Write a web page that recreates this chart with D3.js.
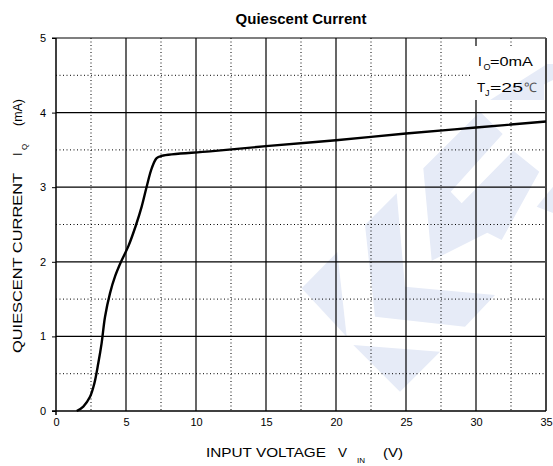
<!DOCTYPE html>
<html><head><meta charset="utf-8">
<script src="https://cdn.jsdelivr.net/npm/d3@7"></script>
<style>body{margin:0;background:#fff}svg{display:block}text{font-family:"Liberation Sans",Arial,sans-serif;white-space:pre}</style>
</head><body>
<svg id="c" width="553" height="466"></svg>
<script>
const voltage = [1.48, 1.95, 2.43, 2.74, 3.02, 3.26, 3.5, 3.86, 4.23, 4.62, 5.17, 5.71, 6.12, 6.48, 6.83, 7.19, 7.55, 11, 15, 20, 25, 30, 35];
const current = [0, 0.06, 0.19, 0.37, 0.64, 0.91, 1.26, 1.58, 1.81, 1.99, 2.21, 2.49, 2.74, 3.01, 3.25, 3.39, 3.42, 3.48, 3.55, 3.63, 3.72, 3.80, 3.88];
const xTicks = [0, 5, 10, 15, 20, 25, 30, 35];
const yTicks = [0, 1, 2, 3, 4, 5];
const xMinor = [2.5, 7.5, 12.5, 17.5, 22.5, 27.5, 32.5];
const yMinor = [0.5, 1.5, 2.5, 3.5, 4.5];

const svg = d3.select("#c");
const L = 56, R = 546, T = 38, B = 411;
const x = d3.scaleLinear().domain([0, 35]).range([L, R]);
const y = d3.scaleLinear().domain([0, 5]).range([B, T]);
const WM = "#e6ebf7";

// watermark
const wm = [
  [[301.7,288.3],[337.3,252],[346.7,336.7]],
  [[353.3,345],[440,351.7],[400,391.7]],
  [[365,225],[396.7,193.3],[405,286.7],[495,295],[465,326.7],[375,316.7]],
  [[423.3,168.3],[480,111.7],[502.7,134],[450.7,191.7],[461.7,203.3],[513.3,150.7],[539.3,171.7],[501.7,240],[487.3,232.7],[431.7,260.7]],
  [[536.7,206.7],[553,186.7],[553,213]],
  [[490,100],[547,64],[553,64],[553,80],[512,100]]
];
svg.append("g").selectAll("polygon").data(wm).join("polygon")
  .attr("points", d => d.map(p => p.join(",")).join(" "))
  .attr("fill", WM);

const g = svg.append("g");
g.selectAll(".vx").data(xMinor).join("line")
  .attr("x1", d => x(d)).attr("x2", d => x(d)).attr("y1", T).attr("y2", B)
  .attr("stroke", "#000").attr("stroke-width", 1).attr("stroke-dasharray", "1,2.5");
g.selectAll(".hy").data(yMinor).join("line")
  .attr("y1", d => y(d)).attr("y2", d => y(d)).attr("x1", L).attr("x2", R)
  .attr("stroke", "#000").attr("stroke-width", 1).attr("stroke-dasharray", "1,2.5");
g.selectAll(".vX").data(xTicks.slice(1, -1)).join("line")
  .attr("x1", d => x(d)).attr("x2", d => x(d)).attr("y1", T).attr("y2", B)
  .attr("stroke", "#000").attr("stroke-width", 1.2);
g.selectAll(".hY").data(yTicks.slice(1, -1)).join("line")
  .attr("y1", d => y(d)).attr("y2", d => y(d)).attr("x1", L).attr("x2", R)
  .attr("stroke", "#000").attr("stroke-width", 1.2);

// legend box
svg.append("rect").attr("x", 471).attr("y", 46).attr("width", 73).attr("height", 54).attr("fill", "#fff");
svg.append("polygon").attr("points", "490,100 544,66 544,100").attr("fill", WM);

// frame
svg.append("line").attr("x1", L - 4).attr("x2", R).attr("y1", T).attr("y2", T).attr("stroke", "#000").attr("stroke-width", 1.2);
svg.append("line").attr("x1", R).attr("x2", R).attr("y1", T).attr("y2", B).attr("stroke", "#444").attr("stroke-width", 2);
svg.append("line").attr("x1", L - 4).attr("x2", R).attr("y1", B).attr("y2", B).attr("stroke", "#000").attr("stroke-width", 1.5);
svg.append("line").attr("x1", L).attr("x2", L).attr("y1", T).attr("y2", B + 4).attr("stroke", "#000").attr("stroke-width", 1.5);

const ya = svg.append("g").attr("transform", `translate(${L},0)`)
  .call(d3.axisLeft(y).tickValues(yTicks).tickSize(4).tickPadding(6).tickFormat(d3.format("d")));
ya.select(".domain").remove();
ya.selectAll("text").attr("font-size", 11).attr("font-family", "Liberation Sans, Arial, sans-serif");
const xa = svg.append("g").attr("transform", `translate(0,${B})`)
  .call(d3.axisBottom(x).tickValues(xTicks).tickSize(0).tickPadding(7).tickFormat(d3.format("d")));
xa.select(".domain").remove();
xa.selectAll("text").attr("font-size", 11).attr("font-family", "Liberation Sans, Arial, sans-serif");

// curve
const pts = voltage.map((v, i) => [v, current[i]]);
svg.append("path").datum(pts)
  .attr("d", d3.line().x(d => x(d[0])).y(d => y(d[1])).curve(d3.curveCatmullRom.alpha(0.5)))
  .attr("fill", "none").attr("stroke", "#000").attr("stroke-width", 2.4).attr("stroke-linejoin", "round");

// title
svg.append("text").attr("x", 301).attr("y", 24).attr("text-anchor", "middle")
  .attr("font-size", 15).attr("font-weight", "bold").text("Quiescent Current");

// x label
const xl = svg.append("g").attr("font-size", 13);
xl.append("text").attr("x", 206).attr("y", 457).attr("textLength", 120).attr("lengthAdjust", "spacingAndGlyphs").text("INPUT VOLTAGE");
xl.append("text").attr("x", 338).attr("y", 457).attr("textLength", 9).attr("lengthAdjust", "spacingAndGlyphs").text("V");
xl.append("text").attr("x", 357).attr("y", 463).attr("font-size", 8).text("IN");
xl.append("text").attr("x", 383).attr("y", 457).attr("textLength", 20).attr("lengthAdjust", "spacingAndGlyphs").text("(V)");

// y label (rotated)
const yl = svg.append("g").attr("font-size", 12.5);
const ybx = 22;
yl.append("text").attr("transform", `translate(${ybx},353) rotate(-90)`).attr("textLength", 180).attr("lengthAdjust", "spacingAndGlyphs").text("QUIESCENT CURRENT");
yl.append("text").attr("transform", `translate(${ybx},156) rotate(-90)`).text("I");
yl.append("text").attr("transform", `translate(${ybx + 5},150) rotate(-90)`).attr("font-size", 8).text("Q");
yl.append("text").attr("transform", `translate(${ybx},126) rotate(-90)`).attr("textLength", 27).attr("lengthAdjust", "spacingAndGlyphs").text("(mA)");

// legend
const lg = svg.append("g").attr("font-size", 13.5);
lg.append("text").attr("x", 478).attr("y", 66).text("I");
lg.append("text").attr("x", 483.5).attr("y", 70).attr("font-size", 9).text("O");
lg.append("text").attr("x", 490).attr("y", 66).attr("textLength", 43).attr("lengthAdjust", "spacingAndGlyphs").text("=0mA");
lg.append("text").attr("x", 477).attr("y", 92).text("T");
lg.append("text").attr("x", 485).attr("y", 96).attr("font-size", 9).text("J");
lg.append("text").attr("x", 490).attr("y", 92).attr("textLength", 33).attr("lengthAdjust", "spacingAndGlyphs").text("=25");
lg.append("text").attr("x", 524).attr("y", 92).attr("font-size", 13).attr("fill", "#555").attr("font-family", "Noto Sans CJK SC").text("℃");
</script>
</body></html>
